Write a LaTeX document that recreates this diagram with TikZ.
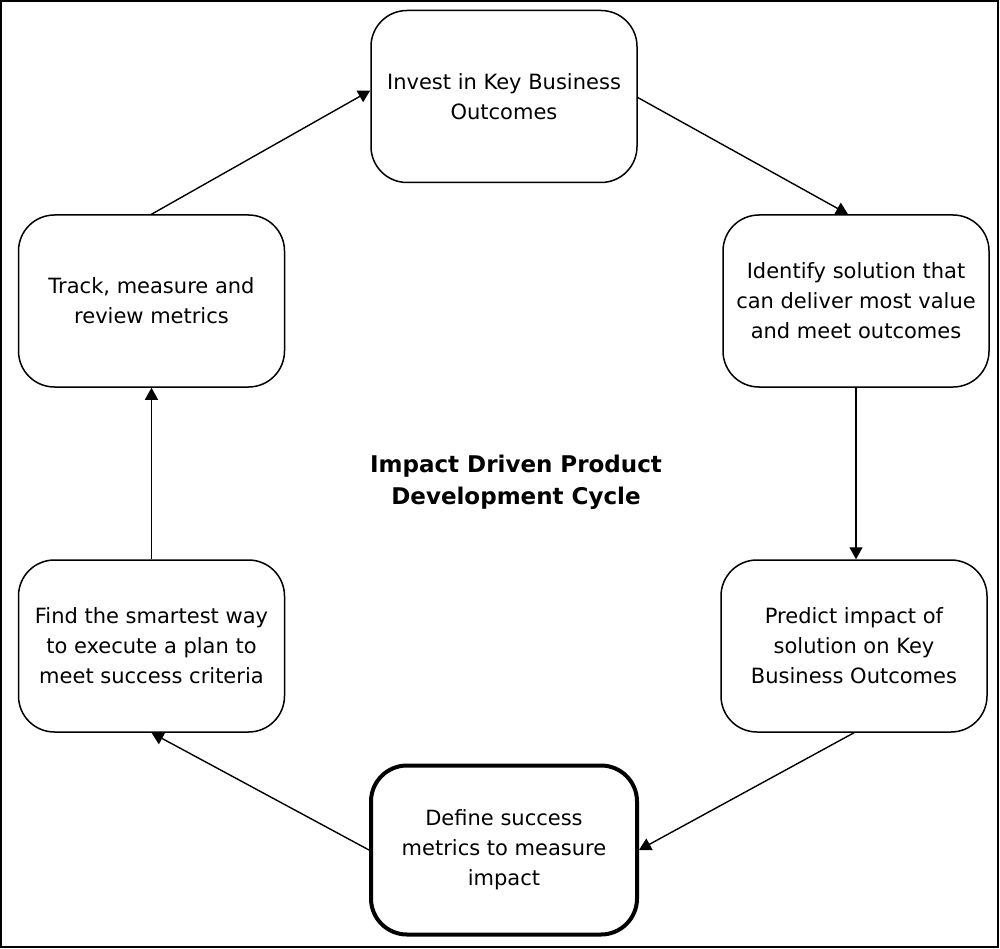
\documentclass[tikz,border=0pt]{standalone}
\usepackage{fontspec}
\setmainfont{DejaVu Sans}
\usetikzlibrary{arrows.meta}
\tikzstyle{stage}=[draw, rounded corners=36pt, minimum width=266pt, minimum height=172pt, align=center, line width=1.5pt, font=\fontsize{21}{30}\selectfont]
\tikzstyle{keystage}=[stage, line width=4pt, minimum height=169pt]
\tikzstyle{flow}=[-{Triangle[length=12pt,width=13pt]}, line width=1.4pt]

\begin{document}
\begin{tikzpicture}[x=1pt,y=-1pt]
\useasboundingbox (0,0) rectangle (1000,949);
\draw[line width=2pt] (1,1) rectangle (998,947);

\node[stage] (invest) at (504,96.5) {Invest in Key Business\\Outcomes};
\node[stage] (identify) at (856,301) {Identify solution that\\can deliver most value\\and meet outcomes};
\node[stage] (predict) at (854,646) {Predict impact of\\solution on Key\\Business Outcomes};
\node[keystage] (define) at (504,850) {Define success\\metrics to measure\\impact};
\node[stage] (find) at (151.5,646) {Find the smartest way\\to execute a plan to\\meet success criteria};
\node[stage] (track) at (151.5,301) {Track, measure and\\review metrics};

\node[align=center, font=\fontsize{23}{32}\selectfont\bfseries] (title) at (516,482) {Impact Driven Product\\Development Cycle};

\draw[flow] ([yshift=-1pt]invest.east) -- ([xshift=-8pt]identify.north);
\draw[flow] (identify.south) -- (identify.south |- predict.north);
\draw[flow] (predict.south) -- (define.east);
\draw[flow] (define.west) -- (find.south);
\draw[flow] (find.north) -- (track.south);
\draw[flow] (track.north) -- ([yshift=6pt]invest.west);
\end{tikzpicture}
\end{document}
